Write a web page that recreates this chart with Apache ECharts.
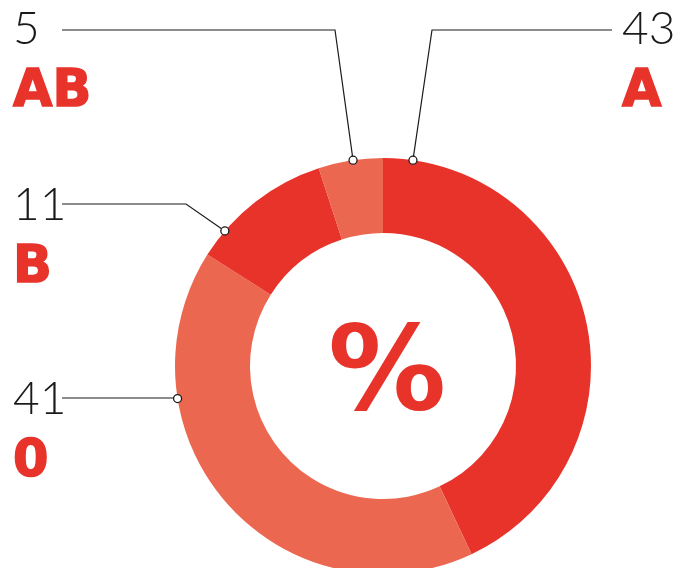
<!DOCTYPE html>
<html>
<head>
<meta charset="utf-8">
<script src="https://cdn.jsdelivr.net/npm/echarts@6/dist/echarts.min.js"></script>
<style>html,body{margin:0;padding:0;background:#fff}#c{width:687px;height:568px}</style>
</head>
<body>
<div id="c"></div>
<script>
// ---- data ----
const categories = ['A', '0', 'B', 'AB'];
const values = [43, 41, 11, 5];
const colors = ['#E8332B', '#EC6750', '#E8332B', '#EC6750'];
// where each leader line touches the ring, in % of the full circle (clockwise from top)
const anchorPct = [2.3, 72.5, 86.25, 97.7];
const centerText = '%';

// ---- layout ----
const CX = 383, CY = 366, R_OUT = 208, R_IN = 133;
const labelLayoutCfg = [
  { x: 622, y: 6,   bend: [432, 30],  end: [612, 30] },
  { x: 13,  y: 376, bend: null,       end: [62, 398] },
  { x: 13,  y: 182, bend: [186, 204], end: [62, 204] },
  { x: 13,  y: 6,   bend: [335, 30],  end: [62, 30] }
];

const chart = echarts.init(document.getElementById('c'), null, { renderer: 'canvas' });
chart.setOption({
  animation: false,
  backgroundColor: '#fff',
  polar: { center: [CX, CY], radius: R_OUT },
  angleAxis: { type: 'value', min: 0, max: 100, startAngle: 90, clockwise: true, show: false },
  radiusAxis: { type: 'value', min: 0, max: 1, show: false },
  graphic: [{
    type: 'text',
    x: CX + 4, y: CY + 12,
    style: {
      text: centerText, align: 'center', verticalAlign: 'middle',
      font: 'bold 118px "DejaVu Sans"', fill: '#E8332B'
    },
    z: 10
  }],
  series: [{
    type: 'pie',
    center: [CX, CY],
    radius: [R_IN, R_OUT],
    startAngle: 90,
    clockwise: true,
    avoidLabelOverlap: false,
    silent: true,
    data: categories.map((c, i) => ({ name: c, value: values[i], itemStyle: { color: colors[i] } })),
    label: {
      show: true,
      position: 'outside',
      formatter: p => '{v|' + p.value + '}\n{n|' + p.name + '}',
      rich: {
        v: { fontFamily: 'Lato', fontWeight: 300, fontSize: 46, lineHeight: 46, color: '#1a1a1a' },
        n: { fontFamily: 'DejaVu Sans', fontWeight: 'bold', fontSize: 51, lineHeight: 82, color: '#E8332B',
             textBorderColor: '#E8332B', textBorderWidth: 1.5 }
      }
    },
    labelLine: { show: true, smooth: false, length: 10, length2: 10, lineStyle: { color: '#1a1a1a', width: 1.2 } },
    labelLayout: function (params) {
      const i = params.dataIndex;
      const L = labelLayoutCfg[i];
      const a = anchorPct[i] / 100 * 2 * Math.PI;
      const p0 = [CX + R_OUT * Math.sin(a), CY - R_OUT * Math.cos(a)];
      const bend = L.bend || [(p0[0] + L.end[0]) / 2, L.end[1]];
      if (!L.bend) p0[1] = L.end[1];
      return { x: L.x, y: L.y, align: 'left', verticalAlign: 'top', labelLinePoints: [p0, bend, L.end] };
    }
  }, {
    type: 'scatter',
    coordinateSystem: 'polar',
    silent: true,
    z: 5,
    symbol: 'circle',
    symbolSize: 8,
    itemStyle: { color: '#fff', borderColor: '#1a1a1a', borderWidth: 1.3, opacity: 1 },
    data: anchorPct.map(p => [1, p])
  }]
});
</script>
</body>
</html>
